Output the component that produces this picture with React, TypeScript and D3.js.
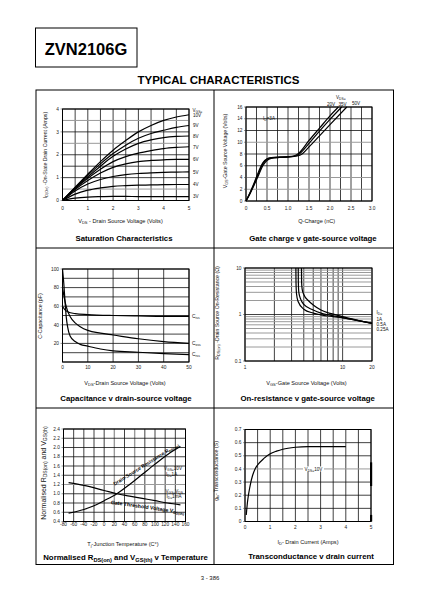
import React from 'react';
import * as d3 from 'd3';

const F = "'Liberation Sans', Arial, Helvetica, sans-serif";
type Pt = [number, number];

// ---------- Saturation characteristics ----------
const satVds = [0, 0.5, 1, 1.5, 2, 2.5, 3, 3.5, 4, 4.5, 5];
const satLabels = ['10V', '9V', '8V', '7V', '6V', '5V', '4V', '3V'];
const satId10V = [0, 0.58, 1.15, 1.7, 2.2, 2.62, 3.0, 3.28, 3.5, 3.65, 3.75];
const satId9V = [0, 0.56, 1.1, 1.6, 2.05, 2.42, 2.72, 2.93, 3.07, 3.2, 3.28];
const satId8V = [0, 0.54, 1.03, 1.5, 1.93, 2.25, 2.5, 2.65, 2.75, 2.8, 2.82];
const satId7V = [0, 0.52, 0.97, 1.37, 1.7, 1.92, 2.07, 2.18, 2.27, 2.32, 2.35];
const satId6V = [0, 0.48, 0.87, 1.2, 1.45, 1.6, 1.7, 1.75, 1.78, 1.8, 1.8];
const satId5V = [0, 0.42, 0.72, 0.92, 1.05, 1.13, 1.18, 1.21, 1.23, 1.24, 1.25];
const satId4V = [0, 0.28, 0.45, 0.55, 0.62, 0.65, 0.67, 0.68, 0.69, 0.7, 0.7];
const satId3V = [0, 0.1, 0.15, 0.17, 0.18, 0.18, 0.17, 0.17, 0.17, 0.17, 0.17];
const satXTicks = [0, 1, 2, 3, 4, 5];
const satYTicks = [0, 1, 2, 3, 4];

// ---------- Gate charge ----------
const gcLabels = ['20V', '35V', '50V'];
const gc20V: Pt[] = [[0, 0], [0.1, 1.5], [0.2, 3.2], [0.3, 5.0], [0.4, 6.5], [0.5, 7.2], [0.6, 7.4], [0.8, 7.5], [1.0, 7.55], [1.15, 7.7], [1.25, 8.1], [1.5, 10.3], [1.75, 12.4], [2.0, 14.5], [2.2, 16]];
const gc35V: Pt[] = [[0, 0], [0.1, 1.4], [0.2, 3.0], [0.3, 4.7], [0.4, 6.3], [0.5, 7.1], [0.6, 7.35], [0.8, 7.45], [1.0, 7.5], [1.2, 7.7], [1.3, 8.2], [1.5, 9.8], [1.75, 11.9], [2.0, 13.9], [2.28, 16]];
const gc50V: Pt[] = [[0, 0], [0.1, 1.3], [0.2, 2.8], [0.3, 4.4], [0.4, 6.0], [0.5, 6.9], [0.6, 7.25], [0.8, 7.4], [1.0, 7.45], [1.25, 7.7], [1.35, 8.1], [1.5, 9.2], [1.75, 11.1], [2.0, 13.0], [2.4, 16]];
const gcXTicks = [0, 0.5, 1, 1.5, 2, 2.5, 3];
const gcYTicks = [0, 2, 4, 6, 8, 10, 12, 14, 16];

// ---------- Capacitance ----------
const capLabels = ['Ciss', 'Coss', 'Crss'];
const capCiss: Pt[] = [[0, 60], [1, 56], [2, 54], [5, 52], [10, 51], [20, 50], [30, 49.5], [40, 49], [50, 49]];
const capCoss: Pt[] = [[0, 80], [1, 65], [2, 55], [3, 49], [5, 42], [7, 38], [10, 34], [15, 31], [20, 29], [30, 25], [40, 22], [50, 20]];
const capCrss: Pt[] = [[0, 100], [0.5, 85], [1, 65], [1.5, 48], [2, 38], [3, 28], [5, 22], [7, 19], [10, 17], [15, 14], [20, 12], [30, 10.5], [40, 9], [50, 8]];
const capXTicks = [0, 10, 20, 30, 40, 50];
const capYTicks = [20, 40, 60, 80, 100];

// ---------- On-resistance ----------
const ronLabels = ['1A', '0.5A', '0.25A'];
const ron1A: Pt[] = [[3.79, 10], [3.8, 5], [3.85, 3.5], [4, 2.7], [4.5, 1.95], [5, 1.6], [6, 1.25], [7, 1.1], [8, 1.02], [10, 0.9], [14, 0.76], [20, 0.64]];
const ron05A: Pt[] = [[3.51, 10], [3.52, 5], [3.56, 3], [3.7, 2.2], [4, 1.65], [5, 1.25], [6, 1.07], [7, 0.99], [8, 0.94], [10, 0.86], [14, 0.75], [20, 0.645]];
const ron025A: Pt[] = [[3.32, 10], [3.33, 5], [3.37, 2.8], [3.5, 1.9], [4, 1.3], [5, 1.07], [6, 0.98], [8, 0.9], [10, 0.85], [14, 0.75], [20, 0.65]];
const ronXTicks = [1, 10, 20];
const ronYTicks = [0.1, 1, 10];
const ronVGrid = [1, 2, 3, 4, 5, 6, 7, 8, 9, 10, 20];
const ronHMinor = [0.2, 0.3, 0.4, 0.5, 0.6, 0.7, 0.8, 0.9, 2, 3, 4, 5, 6, 7, 8, 9];

// ---------- Temperature ----------
const tRds: Pt[] = [[-70, 0.58], [-40, 0.66], [-20, 0.74], [0, 0.85], [25, 1.0], [50, 1.2], [75, 1.42], [100, 1.64], [125, 1.85], [150, 2.02]];
const tVth: Pt[] = [[-70, 1.24], [-40, 1.18], [0, 1.07], [25, 1.0], [50, 0.95], [75, 0.9], [100, 0.85], [125, 0.8], [150, 0.76]];
const tXTicks = [-80, -60, -40, -20, 0, 20, 40, 60, 80, 100, 120, 140, 160];
const tYTicks = [0.4, 0.6, 0.8, 1.0, 1.2, 1.4, 1.6, 1.8, 2.0, 2.2, 2.4];

// ---------- Transconductance ----------
const gfsCurve: Pt[] = [[0.05, 0.05], [0.1, 0.15], [0.2, 0.27], [0.3, 0.35], [0.4, 0.4], [0.5, 0.43], [0.75, 0.48], [1, 0.515], [1.25, 0.535], [1.5, 0.55], [2, 0.565], [2.5, 0.57], [3, 0.57], [4, 0.57]];
const gfsXTicks = [0, 1, 2, 3, 4, 5];
const gfsYTicks = [0, 0.1, 0.2, 0.3, 0.4, 0.5, 0.6, 0.7];

function rich(str: string, fs: number) {
  const parts = str.split(/(_\{[^}]*\})/);
  const out: any[] = [];
  let shifted = false;
  parts.forEach((p, i) => {
    if (!p) return;
    if (p.startsWith('_{')) {
      out.push(<tspan key={i} fontSize={fs * 0.72} dy={shifted ? 0 : fs * 0.25}>{p.slice(2, -1)}</tspan>);
      shifted = true;
    } else {
      out.push(<tspan key={i} dy={shifted ? -fs * 0.25 : 0}>{p}</tspan>);
      shifted = false;
    }
  });
  return out;
}

function Txt(p: { x: number; y: number; s: string; fs: number; anchor?: string; bold?: boolean; rot?: number; fill?: string }) {
  const { x, y, s, fs, anchor = 'start', bold = false, rot = 0, fill = '#111' } = p;
  return (
    <text x={x} y={y} fontSize={fs} fontFamily={F} fontWeight={bold ? 'bold' : 'normal'} textAnchor={anchor as any}
      transform={rot ? `rotate(${rot} ${x} ${y})` : undefined} fill={fill}>{rich(s, fs)}</text>
  );
}

function Plot(p: {
  xs: any; ys: any; vGrid: number[]; hGrid: number[]; grayV?: number[]; grayH?: number[];
  xTicks: number[]; yTicks: number[]; xFmt?: (v: number) => string; yFmt?: (v: number) => string;
  xTickY: number; curves: Pt[][]; children?: any;
}) {
  const { xs, ys } = p;
  const [x0, x1] = xs.range();
  const [yb, yt] = ys.range();
  const grayV = p.grayV || [];
  const grayH = p.grayH || [];
  const line = d3.line<Pt>().x(d => xs(d[0])).y(d => ys(d[1])).curve(d3.curveMonotoneX);
  const xFmt = p.xFmt || ((v: number) => String(v));
  const yFmt = p.yFmt || ((v: number) => String(v));
  return (
    <g>
      {p.vGrid.map((v, i) => (
        <line key={'v' + i} x1={xs(v)} x2={xs(v)} y1={yt} y2={yb}
          stroke={grayV.includes(v) ? '#9a9a9a' : '#111'} strokeWidth={grayV.includes(v) ? 1.4 : 0.8} />
      ))}
      {p.hGrid.map((v, i) => (
        <line key={'h' + i} x1={x0} x2={x1} y1={ys(v)} y2={ys(v)}
          stroke={grayH.includes(v) ? '#9a9a9a' : '#111'} strokeWidth={grayH.includes(v) ? 1.0 : 0.8} />
      ))}
      {p.curves.map((c, i) => (
        <path key={'c' + i} d={line(c) || ''} fill="none" stroke="#000" strokeWidth={1.2} />
      ))}
      <rect x={x0} y={yt} width={x1 - x0} height={yb - yt} fill="none" stroke="#000" strokeWidth={1} />
      {p.xTicks.map((v, i) => (
        <text key={'xt' + i} x={xs(v)} y={p.xTickY} fontSize={4.8} fontFamily={F} textAnchor="middle" fill="#222">{xFmt(v)}</text>
      ))}
      {p.yTicks.map((v, i) => (
        <g key={'yt' + i}>
          <line x1={x0 - 2} x2={x0} y1={ys(v)} y2={ys(v)} stroke="#333" strokeWidth={0.5} />
          <text x={x0 - 3.5} y={ys(v) + 1.7} fontSize={4.8} fontFamily={F} textAnchor="end" fill="#222">{yFmt(v)}</text>
        </g>
      ))}
      {p.children}
    </g>
  );
}

const range = (a: number, b: number, s: number) => d3.range(a, b + s / 2, s).map(v => +v.toFixed(6));

export default function App() {
  // 1 saturation
  const s1x = d3.scaleLinear().domain([0, 5]).range([62.5, 189]);
  const s1y = d3.scaleLinear().domain([0, 4]).range([200.5, 109]);
  const satSeries = [satId10V, satId9V, satId8V, satId7V, satId6V, satId5V, satId4V, satId3V];
  const satCurves: Pt[][] = satSeries.map(s => s.map((v, i) => [satVds[i], v] as Pt));

  // 2 gate charge
  const s2x = d3.scaleLinear().domain([0, 3]).range([246, 372]);
  const s2y = d3.scaleLinear().domain([0, 16]).range([201, 107]);

  // 3 capacitance
  const s3x = d3.scaleLinear().domain([0, 50]).range([62.5, 189]);
  const s3y = d3.scaleLinear().domain([0, 100]).range([362, 269]);

  // 4 on-resistance
  const s4x = d3.scaleLog().domain([1, 20]).range([245, 372]);
  const s4y = d3.scaleLog().domain([0.1, 10]).range([361, 268]);

  // 5 temperature
  const s5x = d3.scaleLinear().domain([-80, 160]).range([63.5, 185.5]);
  const s5y = d3.scaleLinear().domain([0.4, 2.4]).range([521.5, 429]);

  // 6 transconductance
  const s6x = d3.scaleLinear().domain([0, 5]).range([245, 371]);
  const s6y = d3.scaleLinear().domain([0, 0.7]).range([521.5, 429.5]);

  const capSeries = [capCiss, capCoss, capCrss];
  const ronSeries = [ron1A, ron05A, ron025A];

  return (
    <div style={{ position: 'absolute', left: 0, top: 0 }}>
      <svg width={422} height={595} viewBox="0 0 422 595" style={{ display: 'block', background: '#fff' }}>
        <rect x={0} y={0} width={422} height={595} fill="#fff" />
        {/* header */}
        <rect x={35.5} y={28} width={101.5} height={39} fill="none" stroke="#000" strokeWidth={1} />
        <Txt x={86} y={54.5} s="ZVN2106G" fs={16.5} anchor="middle" bold fill="#000" />
        <Txt x={218.5} y={83.5} s="TYPICAL CHARACTERISTICS" fs={11.5} anchor="middle" bold fill="#000" />
        {/* table */}
        <rect x={36} y={90} width={357.5} height={474.5} fill="none" stroke="#000" strokeWidth={1} />
        <line x1={214} x2={214} y1={90} y2={564.5} stroke="#000" strokeWidth={1} />
        <line x1={36} x2={393.5} y1={248} y2={248} stroke="#000" strokeWidth={1} />
        <line x1={36} x2={393.5} y1={408} y2={408} stroke="#000" strokeWidth={1} />

        {/* Chart 1 */}
        <Plot xs={s1x} ys={s1y} vGrid={range(0, 5, 0.5)} hGrid={range(0, 4, 0.5)} grayH={[0.5, 2.5, 3.5]}
          xTicks={satXTicks} yTicks={satYTicks} xTickY={209.5} curves={satCurves}>
          <Txt x={192.5} y={s1y(satId10V[10]) - 3} s="V_{GS=}" fs={4.6} />
          {satLabels.map((l, i) => (
            <Txt key={l} x={193} y={s1y(satSeries[i][10]) + 1.8} s={l} fs={4.6} />
          ))}
        </Plot>
        <Txt x={47} y={155} s="I_{D(On)} -On-State Drain Current (Amps)" fs={5.2} anchor="middle" rot={-90} />
        <Txt x={120.5} y={223} s="V_{DS} - Drain Source Voltage (Volts)" fs={5.6} anchor="middle" />
        <Txt x={124} y={240.5} s="Saturation Characteristics" fs={7.8} anchor="middle" bold fill="#000" />

        {/* Chart 2 */}
        <Plot xs={s2x} ys={s2y} vGrid={range(0, 3, 0.25)} hGrid={gcYTicks} grayH={[2, 4, 10]}
          xTicks={gcXTicks} yTicks={gcYTicks} xFmt={v => (v === 0 ? '0' : v.toFixed(1))} xTickY={209.5}
          curves={[gc20V, gc35V, gc50V]}>
          <Txt x={263} y={120} s="I_{D}=3A" fs={4.6} />
          <Txt x={336} y={99} s="V_{DS=}" fs={4.6} />
          {gcLabels.map((l, i) => (
            <Txt key={l} x={[331, 342.5, 356][i]} y={[105.5, 105.5, 104.5][i]} s={l} fs={4.6} anchor="middle" />
          ))}
        </Plot>
        <Txt x={227} y={151} s="V_{GS}-Gate Source Voltage (Volts)" fs={5.2} anchor="middle" rot={-90} />
        <Txt x={316.7} y={223} s="Q-Charge (nC)" fs={5.6} anchor="middle" />
        <Txt x={313} y={240.5} s="Gate charge v gate-source voltage" fs={7.8} anchor="middle" bold fill="#000" />

        {/* Chart 3 */}
        <Plot xs={s3x} ys={s3y} vGrid={capXTicks} hGrid={range(0, 100, 10)}
          xTicks={capXTicks} yTicks={capYTicks} xTickY={368.5} curves={capSeries}>
          {capLabels.map((l, i) => {
            const last = capSeries[i][capSeries[i].length - 1];
            return <Txt key={l} x={192} y={s3y(last[1]) + 1.6} s={l[0] + '_{' + l.slice(1) + '}'} fs={4.8} />;
          })}
        </Plot>
        <Txt x={42} y={316} s="C-Capacitance (pF)" fs={5.2} anchor="middle" rot={-90} />
        <Txt x={125} y={385} s="V_{DS}-Drain Source Voltage (Volts)" fs={5.6} anchor="middle" />
        <Txt x={126} y={400.5} s="Capacitance v drain-source voltage" fs={7.8} anchor="middle" bold fill="#000" />

        {/* Chart 4 */}
        <Plot xs={s4x} ys={s4y} vGrid={ronVGrid} hGrid={[...ronHMinor, 0.1, 1, 10]} grayH={ronHMinor}
          xTicks={ronXTicks} yTicks={ronYTicks} xTickY={368.5} curves={ronSeries}>
          <Txt x={376.5} y={314} s="I_{D=}" fs={4.6} />
          {ronLabels.map((l, i) => (
            <Txt key={l} x={376.5} y={320.5 + i * 5.3} s={l} fs={4.6} />
          ))}
        </Plot>
        <Txt x={219} y={313} s="R_{DS(on)} -Drain Source On-Resistance (Ω)" fs={5.2} anchor="middle" rot={-90} />
        <Txt x={306.5} y={385} s="V_{GS}-Gate Source Voltage (Volts)" fs={5.6} anchor="middle" />
        <Txt x={307.7} y={400.5} s="On-resistance v gate-source voltage" fs={7.8} anchor="middle" bold fill="#000" />

        {/* Chart 5 */}
        <Plot xs={s5x} ys={s5y} vGrid={tXTicks} hGrid={tYTicks.map(v => +v.toFixed(1))} grayV={[20, 60]} grayH={[1.2]}
          xTicks={tXTicks} yTicks={tYTicks} yFmt={v => v.toFixed(1)} xTickY={526} curves={[tRds, tVth]}>
          <Txt x={147} y={465.5} s="Drain-Source Resistance R_{DS(on)}" fs={5} anchor="middle" bold rot={-32} fill="#000" />
          <Txt x={147.5} y={509} s="Gate Threshold Voltage V_{GS(th)}" fs={5.2} anchor="middle" bold rot={7.9} fill="#000" />
          <Txt x={164} y={469.5} s="V_{GS=}10V" fs={4.6} />
          <Txt x={166} y={475.5} s="I_{D=}1A" fs={4.6} />
          <Txt x={165.5} y={492.5} s="V_{GS=}V_{DS}" fs={4.6} />
          <Txt x={166.5} y={498} s="I_{D=}1mA" fs={4.6} />
        </Plot>
        <Txt x={45.5} y={473} s="Normalised R_{DS(on)} and V_{GS(th)}" fs={7} anchor="middle" rot={-90} />
        <Txt x={123} y={545.5} s="T_{j}-Junction Temperature (C°)" fs={5.6} anchor="middle" />
        <Txt x={125.5} y={560} s="Normalised R_{DS(on)} and V_{GS(th)} v Temperature" fs={7.8} anchor="middle" bold fill="#000" />

        {/* Chart 6 */}
        <Plot xs={s6x} ys={s6y} vGrid={range(0, 5, 0.5)} hGrid={gfsYTicks} grayH={[0.4]}
          xTicks={gfsXTicks} yTicks={gfsYTicks} xTickY={529} curves={[gfsCurve]}>
          <rect x={303} y={s6y(0.4) - 2.5} width={21} height={5} fill="#fff" />
          <Txt x={313.5} y={s6y(0.4) + 1.6} s="V_{DS=}10V" fs={4.6} anchor="middle" />
          <rect x={370} y={s6y(0.45)} width={2.2} height={s6y(0.27) - s6y(0.45)} fill="#000" />
          <rect x={370} y={s6y(0.05)} width={2.2} height={s6y(0) - s6y(0.05)} fill="#000" />
        </Plot>
        <Txt x={218} y={471} s="g_{fs}- Transconductance (S)" fs={5.2} anchor="middle" rot={-90} />
        <Txt x={308} y={543.5} s="I_{D}- Drain Current (Amps)" fs={5.6} anchor="middle" />
        <Txt x={311} y={559} s="Transconductance v drain current" fs={7.8} anchor="middle" bold fill="#000" />

        <Txt x={210} y={580} s="3 - 386" fs={6} anchor="middle" />
      </svg>
    </div>
  );
}
